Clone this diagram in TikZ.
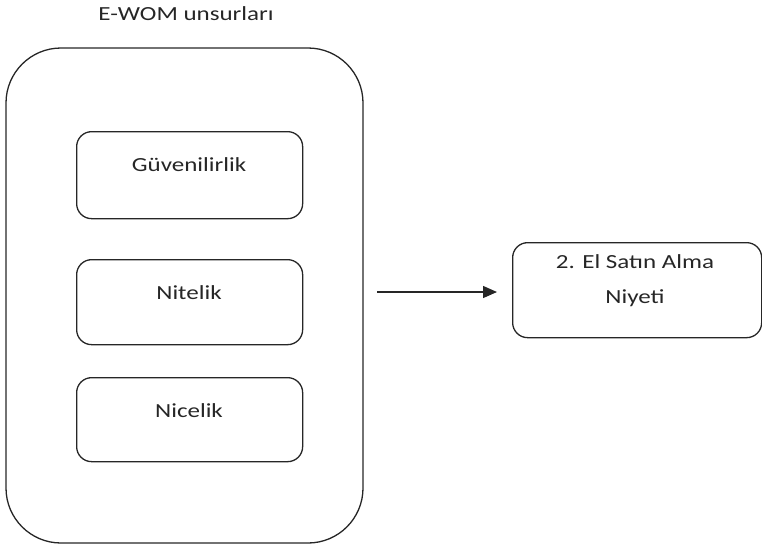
\documentclass[tikz,border=0pt]{standalone}
\usepackage{fontspec}
\setmainfont{Carlito}[FakeStretch=1.25]
\usetikzlibrary{arrows.meta}
\begin{document}
\begin{tikzpicture}[x=1pt,y=-1pt,
  inner/.style={draw=black!85, line width=1.3pt, rounded corners=15pt},
  lbl/.style={text=black!85, font=\fontsize{20}{35}\selectfont, align=center, inner sep=0pt},
  arr/.style={draw=black!85, line width=1.3pt, -{Triangle[length=14pt,width=12pt]}}]
\useasboundingbox (0,0) rectangle (762,547);
\node[lbl] (title) at (186,14) {E-WOM unsurları};
\draw[inner, rounded corners=55pt] (6,48) rectangle (363,543);
\node[inner, minimum width=226pt, minimum height=87pt, anchor=north west] (b1) at (76,131) {};
\node[inner, minimum width=226pt, minimum height=85pt, anchor=north west] (b2) at (76,259) {};
\node[inner, minimum width=226pt, minimum height=84pt, anchor=north west] (b3) at (76,377) {};
\node[lbl] (t1) at (189,165) {Güvenilirlik};
\node[lbl] (t2) at (189,293) {Nitelik};
\node[lbl] (t3) at (189,411) {Nicelik};
\node[inner, minimum width=249pt, minimum height=95pt, anchor=north west] (r) at (512,242) {};
\node[lbl] (rt) at (635,281) {2. El Satın Alma\\Niyeti};
\coordinate (s) at (377,292);
\coordinate (e) at (497,292);
\draw[arr] (s) -- (e);
\end{tikzpicture}
\end{document}
